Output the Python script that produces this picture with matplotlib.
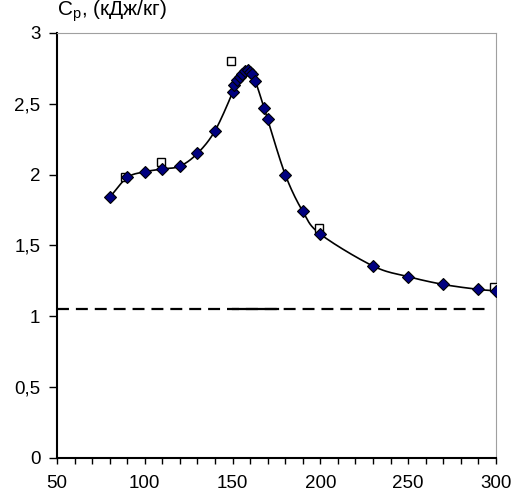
import numpy as np
import matplotlib
matplotlib.use("Agg")
from matplotlib import pyplot as plt
from matplotlib.ticker import MultipleLocator, FixedLocator, FixedFormatter

plt.rcParams['font.family'] = ['Liberation Sans', 'DejaVu Sans']
plt.rcParams['mathtext.fontset'] = 'custom'
plt.rcParams['mathtext.rm'] = 'Liberation Sans'
plt.rcParams['lines.scale_dashes'] = False

# measured points (diamonds)
temp_meas = [80, 90, 100, 110, 120, 130, 140, 150, 151, 152.5, 154, 155.5, 157, 158.5,
             160, 161, 163, 168, 170, 180, 190, 200, 230, 250, 270, 290, 300]
cp_meas = [1.84, 1.98, 2.02, 2.04, 2.06, 2.15, 2.31, 2.58, 2.63, 2.665, 2.69, 2.71, 2.73, 2.74,
           2.725, 2.71, 2.66, 2.47, 2.39, 2.00, 1.74, 1.58, 1.355, 1.28, 1.225, 1.19, 1.18]

# reference points (open squares)
temp_ref = [89, 109, 149, 199, 299]
cp_ref = [1.98, 2.09, 2.80, 1.62, 1.21]

# horizontal level
cp_level = 1.05
level_x = [50, 297]
level_solid_x = [150, 176]

y_ticks = [0, 0.5, 1, 1.5, 2, 2.5, 3]
y_ticklabels = ["0", "0,5", "1", "1,5", "2", "2,5", "3"]


# smoothed line like excel (catmull-rom through the points)
def smooth_curve(x, y, n=20):
    x = np.asarray(x, float)
    y = np.asarray(y, float)
    px = np.concatenate([[2*x[0]-x[1]], x, [2*x[-1]-x[-2]]])
    py = np.concatenate([[2*y[0]-y[1]], y, [2*y[-1]-y[-2]]])
    xs, ys = [], []
    t = np.linspace(0, 1, n, endpoint=False)
    for i in range(1, len(px)-2):
        for arr, out in ((px, xs), (py, ys)):
            p0, p1, p2, p3 = arr[i-1], arr[i], arr[i+1], arr[i+2]
            out.extend(0.5*((2*p1) + (-p0+p2)*t + (2*p0-5*p1+4*p2-p3)*t**2 + (-p0+3*p1-3*p2+p3)*t**3))
    xs.append(x[-1])
    ys.append(y[-1])
    return np.array(xs), np.array(ys)


fig = plt.figure(figsize=(5.15, 4.99), dpi=100)
ax = fig.add_axes([0.1107, 0.0822, 0.963-0.1107, 0.9339-0.0822])

sx, sy = smooth_curve(temp_meas, cp_meas)
ax.plot(sx, sy, color='black', lw=1.2, zorder=2)

# level line
ax.plot(level_x, [cp_level, cp_level], color='black', lw=1.6, dashes=(8.6, 5.0), zorder=1)
ax.plot(level_solid_x, [cp_level, cp_level], color='black', lw=1.6, zorder=1)

ax.plot(temp_ref, cp_ref, ls='none', marker='s', ms=6, mfc='white', mec='black', mew=1.0, zorder=3)
ax.plot(temp_meas, cp_meas, ls='none', marker='D', ms=6.5, mfc='#000080', mec='black', mew=0.8, zorder=4)

ax.set_xlim(50, 300)
ax.set_ylim(0, 3)
ax.xaxis.set_major_locator(MultipleLocator(50))
ax.xaxis.set_minor_locator(MultipleLocator(10))
ax.yaxis.set_major_locator(FixedLocator(y_ticks))
ax.yaxis.set_major_formatter(FixedFormatter(y_ticklabels))

ax.tick_params(axis='both', which='both', direction='out', labelsize=13.5, width=1, color='black')
ax.tick_params(axis='x', which='both', length=4.5, pad=8)
ax.tick_params(axis='y', which='major', length=6, pad=6)

ax.spines['left'].set_color('black')
ax.spines['bottom'].set_color('black')
ax.spines['left'].set_linewidth(1.5)
ax.spines['bottom'].set_linewidth(1.5)
ax.spines['top'].set_color('#a0a0a0')
ax.spines['right'].set_color('#a0a0a0')

ax.text(0.0, 1.02, r"C$_{\rm p}$, (кДж/кг)", transform=ax.transAxes, fontsize=15,
        ha='left', va='bottom')

fig.savefig("out.png", dpi=100)
